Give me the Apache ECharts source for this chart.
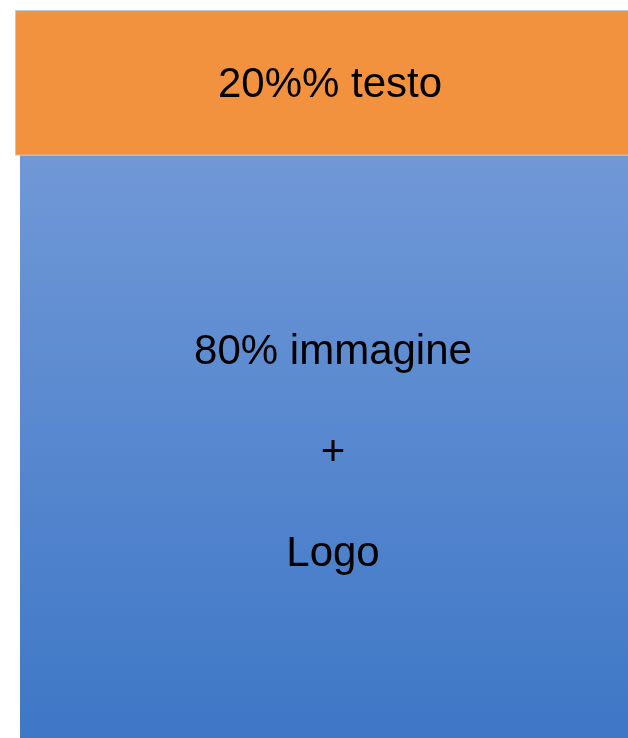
<!DOCTYPE html>
<html>
<head>
<meta charset="utf-8">
<script src="https://cdn.jsdelivr.net/npm/echarts@6/dist/echarts.min.js"></script>
<style>
  html, body { margin: 0; padding: 0; background: #fff; }
  #chart { width: 628px; height: 738px; }
</style>
</head>
<body>
<div id="chart"></div>
<script>
// data
const categories = ['slide'];
const testoShare = [20];
const immagineShare = [80];
const testoLabel = '20%% testo';
const immagineLabel = '80% immagine\n+\nLogo';

const myChart = echarts.init(document.getElementById('chart'));

const labelStyle = {
    show: true,
    position: 'inside',
    color: '#000',
    fontFamily: 'Liberation Sans, Arial, sans-serif',
    fontSize: 42
};

const options = {
    animation: false,
    backgroundColor: '#fff',
    grid: { left: 15, width: 631, top: 10, bottom: 0, outerBoundsMode: 'none', containLabel: false },
    xAxis: { type: 'category', data: categories, show: false },
    yAxis: { type: 'value', min: 0, max: 100, inverse: true, show: false },
    series: [
        {
            name: 'testo',
            type: 'bar',
            stack: 'a',
            barWidth: 630,
            barGap: '-99.206%',
            itemStyle: { color: '#f2923f', borderColor: '#c8c8c8', borderWidth: 1 },
            label: Object.assign({}, labelStyle, { formatter: testoLabel, offset: [0, 3] }),
            data: testoShare
        },
        {
            name: 'base',
            type: 'bar',
            stack: 'b',
            barWidth: 626,
            silent: true,
            itemStyle: { color: 'rgba(0,0,0,0)' },
            data: testoShare
        },
        {
            name: 'immagine',
            type: 'bar',
            stack: 'b',
            itemStyle: {
                color: new echarts.graphic.LinearGradient(0, 0, 0, 1, [
                    { offset: 0, color: '#7098d7' },
                    { offset: 1, color: '#3e77c6' }
                ])
            },
            label: Object.assign({}, labelStyle, { formatter: immagineLabel, lineHeight: 101, offset: [0, 7] }),
            data: immagineShare
        }
    ]
};
myChart.setOption(options);
</script>
</body>
</html>
